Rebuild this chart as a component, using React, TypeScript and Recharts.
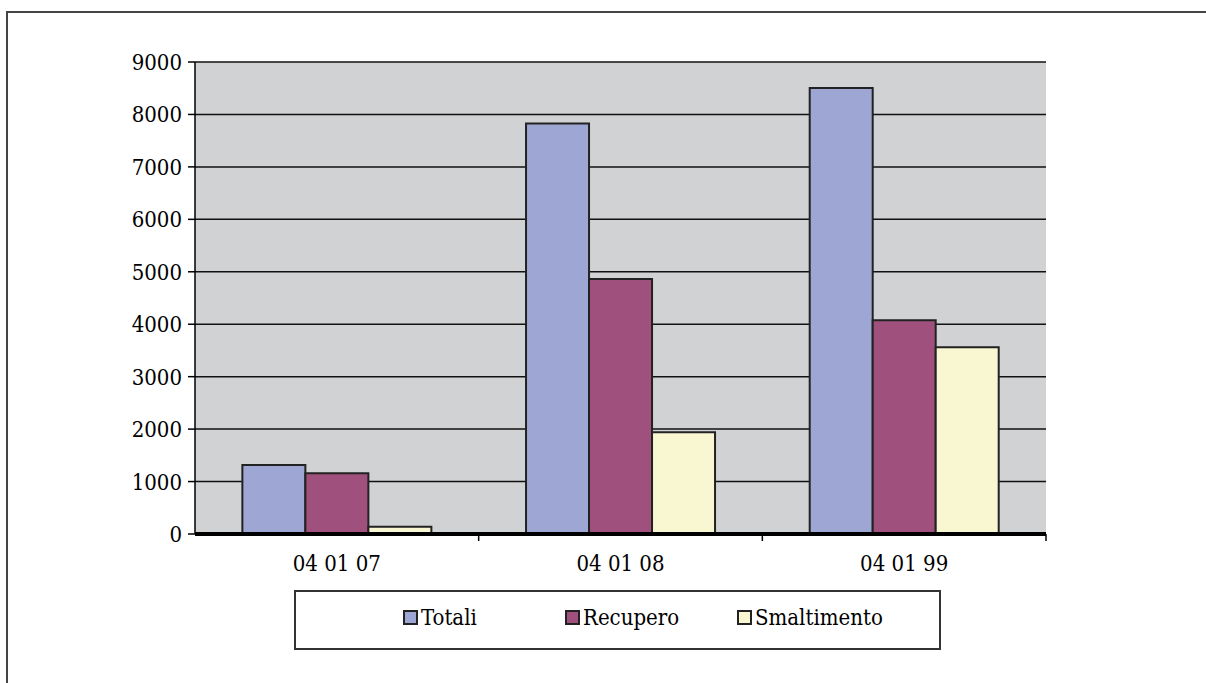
import React from "react";
import { BarChart, Bar, XAxis, YAxis, CartesianGrid, Legend } from "recharts";

const categorie = ["04 01 07", "04 01 08", "04 01 99"];
const totali = [1315, 7825, 8505];
const recupero = [1160, 4860, 4075];
const smaltimento = [140, 1940, 3560];
const yTicks = [0, 1000, 2000, 3000, 4000, 5000, 6000, 7000, 8000, 9000];

const SERIES = [
  { key: "Totali", color: "#9ea6d4" },
  { key: "Recupero", color: "#a0507c" },
  { key: "Smaltimento", color: "#f9f7d2" },
];

const data = categorie.map((c, i) => ({
  cat: c,
  Totali: totali[i],
  Recupero: recupero[i],
  Smaltimento: smaltimento[i],
}));

const FONT = "'DejaVu Serif Condensed', 'DejaVu Serif', serif";
const FS = 22;

function XTick(props: any) {
  const { x, y, payload } = props;
  const off = payload.offset || 0;
  return (
    <g>
      <line x1={x + off} x2={x + off} y1={y - 10} y2={y - 3} stroke="#000" strokeWidth={1.5} />
      <text x={x} y={y} dy={27} textAnchor="middle" style={{ fontFamily: FONT, fontStretch: "condensed" }} fontSize={FS} fill="#000">
        {payload.value}
      </text>
    </g>
  );
}

function YTick(props: any) {
  const { x, y, payload } = props;
  return (
    <text x={x} y={y} dy={8} textAnchor="end" style={{ fontFamily: FONT, fontStretch: "condensed" }} fontSize={FS} fill="#000">
      {payload.value}
    </text>
  );
}

function LegendBox() {
  const lefts = [107, 269, 441];
  return (
    <div
      style={{
        position: "relative",
        width: 647,
        height: 60,
        boxSizing: "border-box",
        border: "2px solid #333",
        background: "#fff",
      }}
    >
      {SERIES.map((s, i) => (
        <div
          key={s.key}
          style={{
            position: "absolute",
            left: lefts[i],
            top: 13,
            display: "flex",
            alignItems: "center",
            fontFamily: FONT,
            fontStretch: "condensed",
            fontSize: FS,
            color: "#000",
          }}
        >
          <span
            style={{
              display: "inline-block",
              width: 11,
              height: 11,
              border: "2px solid #222",
              background: s.color,
              marginRight: 3,
            }}
          />
          <span>{s.key}</span>
        </div>
      ))}
    </div>
  );
}

export default function App() {
  return (
    <div style={{ position: "fixed", left: 0, top: 0, width: 1206, height: 683, overflow: "hidden", background: "#fff" }}>
      <div
        style={{
          position: "absolute",
          left: 6,
          top: 11,
          width: 1300,
          height: 800,
          borderLeft: "2px solid #444",
          borderTop: "2px solid #444",
        }}
      />
      <div style={{ position: "absolute", left: 0, top: 0 }}>
        <BarChart
          width={1206}
          height={683}
          data={data}
          margin={{ top: 62, right: 160, left: 0, bottom: 109 }}
          barCategoryGap="16.7%"
          barGap={0}
        >
          <CartesianGrid vertical={false} stroke="#111" strokeWidth={1.5} fill="#d1d2d4" fillOpacity={1} />
          <XAxis
            dataKey="cat"
            height={40}
            axisLine={{ stroke: "#000", strokeWidth: 4 }}
            tickLine={false}
            tickSize={8}
            tickMargin={2}
            tick={<XTick />}
            interval={0}
          />
          <YAxis
            width={195}
            domain={[0, 9000]}
            ticks={yTicks}
            interval={0}
            axisLine={{ stroke: "#000", strokeWidth: 1.5 }}
            tickLine={{ stroke: "#000", strokeWidth: 1.5 }}
            tickSize={7}
            tickMargin={6}
            tick={<YTick />}
          />
          <YAxis
            yAxisId="r"
            orientation="right"
            width={0}
            domain={[0, 9000]}
            tick={false}
            tickLine={false}
            axisLine={{ stroke: "#000", strokeWidth: 1.5 }}
          />
          <Legend
            layout="vertical"
            verticalAlign="middle"
            align="center"
            content={() => <LegendBox />}
            wrapperStyle={{ left: 294, top: 590, width: 647, height: 60 }}
          />
          {SERIES.map((s) => (
            <Bar
              key={s.key}
              dataKey={s.key}
              fill={s.color}
              stroke="#222"
              strokeWidth={2}
              isAnimationActive={false}
            />
          ))}
        </BarChart>
      </div>
    </div>
  );
}
